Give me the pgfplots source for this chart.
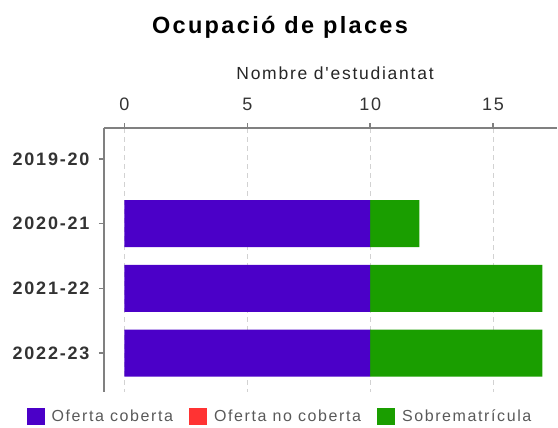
\documentclass[border=0pt]{standalone}
\usepackage{fontspec}
\setmainfont{Liberation Sans}
\newfontfamily\lab{Liberation Sans}[LetterSpace=10]
\usepackage{pgfplots}
\pgfplotsset{compat=1.18}
\definecolor{cov}{HTML}{4B00C8}
\definecolor{nocov}{HTML}{FF3333}
\definecolor{sobre}{HTML}{1A9E00}
\definecolor{axgray}{HTML}{808080}
\begin{document}
\begin{tikzpicture}[x=1pt,y=1pt]
\useasboundingbox (0,0) rectangle (558,-428);
\node[font=\lab\bfseries\fontsize{23.5}{26}\selectfont, text=black] at (280,-27) {Ocupació de places};
\begin{axis}[
 at={(104pt,-392pt)}, anchor=south west, scale only axis,
 width=453pt, height=264pt,
 xbar stacked, bar width=47pt,
 xmin=-0.83, xmax=17.6, ymin=-0.477, ymax=3.6, y dir=reverse,
 axis x line=top, axis y line=left,
 axis line style={-, draw=axgray, line width=2pt},
 xtick={0,5,10,15}, xticklabels={0,5,10,15},
 ytick={0,1,2,3}, yticklabels={2019-20,2020-21,2021-22,2022-23},
 tick align=outside, major tick length=5pt,
 tick style={axgray, line width=1.5pt},
 xmajorgrids, grid style={gray!35, dash pattern=on 5pt off 4pt, line width=1pt},
 xticklabel style={font=\lab\fontsize{18}{20}\selectfont, text=black!80, yshift=9pt},
 yticklabel style={font=\lab\bfseries\fontsize{18}{20}\selectfont, text=black!80, xshift=-6pt},
 xlabel={Nombre d'estudiantat},
 xlabel style={at={(axis description cs:0.51,1)}, anchor=center, yshift=55pt,
   font=\lab\fontsize{17.5}{20}\selectfont, text=black!85},
 legend style={at={(axis description cs:0.3885,-0.0909)}, anchor=center, draw=none,
   fill=none, font=\lab\fontsize{16}{18}\selectfont, text=black!65,
   /tikz/every odd column/.append style={column sep=5pt},
   /tikz/every even column/.append style={column sep=14pt}},
 legend columns=3,
 legend image code/.code={\fill[#1] (0pt,-8.5pt) rectangle (18pt,8.5pt);},
]
\addplot[fill=cov, draw=none] coordinates {(0,0) (10,1) (10,2) (10,3)};
\addplot[fill=nocov, draw=none] coordinates {(0,0) (0,1) (0,2) (0,3)};
\addplot[fill=sobre, draw=none] coordinates {(0,0) (2,1) (7,2) (7,3)};
\legend{Oferta coberta, Oferta no coberta, Sobrematrícula}
\end{axis}
\end{tikzpicture}
\end{document}
